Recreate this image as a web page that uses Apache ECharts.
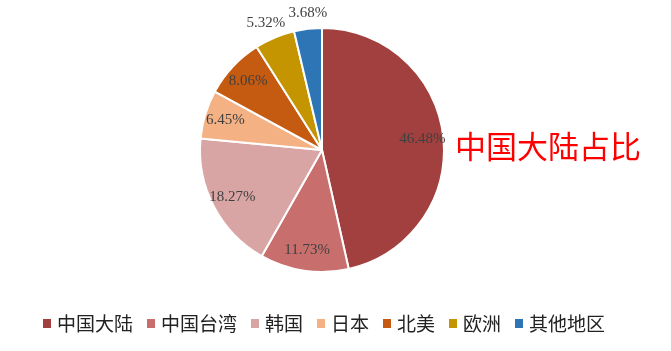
<!DOCTYPE html>
<html>
<head>
<meta charset="utf-8">
<script src="https://cdn.jsdelivr.net/npm/echarts@6/dist/echarts.min.js"></script>
<style>
  html, body { margin: 0; padding: 0; background: #fff; }
  #chart { width: 671px; height: 351px; }
</style>
</head>
<body>
<div id="chart"></div>
<script>
// 各地区占比
const regions = ['中国大陆', '中国台湾', '韩国', '日本', '北美', '欧洲', '其他地区'];
const shares = [46.48, 11.73, 18.27, 6.45, 8.06, 5.32, 3.68];
const colors = ['#A2403F', '#C86F6E', '#D9A5A4', '#F4B184', '#C55A11', '#C49500', '#2E75B6'];
const titleText = '中国大陆占比';

// 小扇区的标签放在外面
const outsideOffset = { '欧洲': [18, -9], '其他地区': [25, -10] };

const chart = echarts.init(document.getElementById('chart'));

const pieData = regions.map((name, i) => ({ name, value: shares[i] }));
const labelData = regions.map((name, i) => {
    const item = { name, value: shares[i] };
    if (outsideOffset[name]) {
        item.label = { position: 'outside', offset: outsideOffset[name] };
    }
    return item;
});

chart.setOption({
    color: colors,
    animation: false,
    title: {
        text: titleText,
        left: 450,
        top: 126,
        textStyle: {
            color: '#FF0000',
            fontSize: 31,
            fontWeight: 'normal',
            fontFamily: 'Noto Sans CJK SC'
        }
    },
    legend: {
        data: regions,
        left: 36,
        top: 309,
        itemWidth: 10,
        itemHeight: 11,
        itemGap: 12,
        icon: 'rect',
        textStyle: {
            fontSize: 19,
            color: '#222',
            fontFamily: 'Noto Sans CJK SC'
        }
    },
    series: [
        {
            type: 'pie',
            center: [322, 150],
            radius: [0, 122],
            startAngle: 90,
            itemStyle: {
                borderColor: '#fff',
                borderWidth: 2
            },
            label: { show: false },
            labelLine: { show: false },
            data: pieData
        },
        {
            // 仅用于显示标签
            type: 'pie',
            silent: true,
            center: [322, 150],
            radius: [74, 122],
            startAngle: 90,
            avoidLabelOverlap: false,
            itemStyle: { color: 'rgba(0,0,0,0)', borderWidth: 0 },
            label: {
                show: true,
                position: 'inside',
                formatter: '{c}%',
                color: '#404040',
                fontSize: 15,
                fontFamily: 'Liberation Serif'
            },
            labelLine: { show: false, length: 6, length2: 0 },
            data: labelData
        }
    ]
});
</script>
</body>
</html>
